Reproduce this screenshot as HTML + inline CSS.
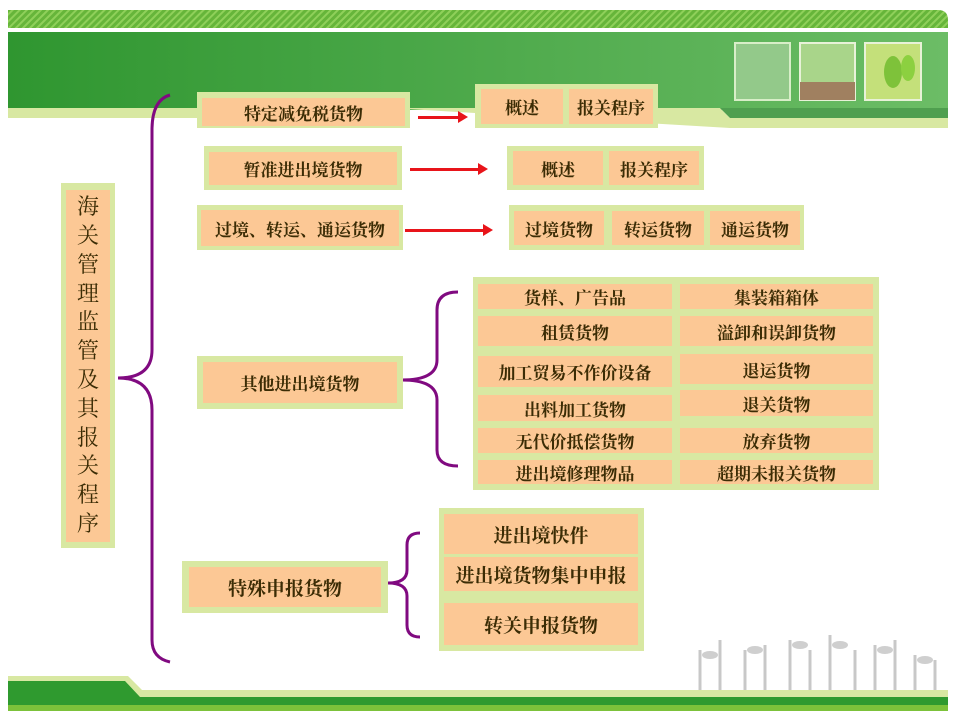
<!DOCTYPE html>
<html><head><meta charset="utf-8"><style>
body{margin:0;width:960px;height:720px;background:#fff;position:relative;overflow:hidden;font-family:"Liberation Serif","Noto Serif CJK SC",serif;}
.o{position:absolute;background:#d8e8a2;}
.i{position:absolute;background:#fcc895;color:#3b2c05;font-weight:bold;font-size:17px;display:flex;align-items:center;justify-content:center;white-space:nowrap;}
.a{position:absolute;height:3px;background:#e8141a;}
.a:after{content:"";position:absolute;right:-8px;top:-5px;border-left:10px solid #e8141a;border-top:6px solid transparent;border-bottom:6px solid transparent;}
</style></head><body>
<svg width="960" height="720" style="position:absolute;left:0;top:0">
<defs>
<pattern id="h" width="5" height="5" patternUnits="userSpaceOnUse" patternTransform="rotate(45)"><rect width="5" height="5" fill="#66b53a"/><rect width="2" height="5" fill="#8fd05a"/></pattern>
<linearGradient id="g" x1="0" x2="1"><stop offset="0" stop-color="#2f9630"/><stop offset="1" stop-color="#6cbd66"/></linearGradient>
</defs>
<path d="M8 10 H938 Q948 10 948 20 V28 H8Z" fill="url(#h)"/>
<rect x="8" y="32" width="940" height="78" fill="url(#g)"/>
<rect x="8" y="108" width="400" height="10" fill="#d8e8a2"/>
<path d="M390 108 H720 L730 118 H948 V128 H730Z" fill="#d8e8a2"/>
<path d="M720 108 H948 V118 H730Z" fill="#4f9f4f"/>
<rect x="735" y="43" width="55" height="57" fill="#93c98a" stroke="#d8eec8" stroke-width="2"/>
<rect x="800" y="43" width="55" height="57" fill="#a9d58a" stroke="#e8f2d8" stroke-width="2"/>
<rect x="800" y="82" width="55" height="18" fill="#a08060"/>
<rect x="865" y="43" width="56" height="57" fill="#c4e07a" stroke="#e8f2d8" stroke-width="2"/>
<ellipse cx="893" cy="72" rx="9" ry="16" fill="#7ec23a"/><ellipse cx="908" cy="68" rx="7" ry="13" fill="#8cd040"/>
<!-- footer -->
<path d="M8 676 H128 L142 690 H948 V698 H8Z" fill="#d8e8a2"/>
<path d="M8 681 H125 L140 697 H948 V706 H8Z" fill="#2f9a2f"/>
<rect x="8" y="705" width="940" height="6" fill="#7cc23a"/>
<g stroke="#c8c8c8" stroke-width="3" fill="none">
<path d="M700 690 V650 M720 690 V640 M745 690 V650 M765 690 V645 M790 690 V640 M810 690 V650 M830 690 V635 M855 690 V650 M875 690 V645 M895 690 V640 M915 690 V655 M935 690 V660"/>
</g>
<g fill="#cfcfcf"><ellipse cx="710" cy="655" rx="8" ry="4"/><ellipse cx="755" cy="650" rx="8" ry="4"/><ellipse cx="800" cy="645" rx="8" ry="4"/><ellipse cx="840" cy="645" rx="8" ry="4"/><ellipse cx="885" cy="650" rx="8" ry="4"/><ellipse cx="925" cy="660" rx="8" ry="4"/></g>
<!-- braces -->
<g stroke="#800a80" stroke-width="3" fill="none">
<path d="M170 95 Q152 100 152 130 V350 Q152 378 118 378 Q152 378 152 410 V640 Q152 658 170 662"/>
<path d="M458 292 Q437 292 437 310 V360 Q437 380 402 380 Q437 380 437 400 V450 Q437 466 458 466"/>
<path d="M420 533 Q407 533 407 545 V570 Q407 583 388 583 Q407 583 407 596 V625 Q407 637 420 637"/>
</g>
</svg>
<div class="o" style="left:61px;top:183px;width:54px;height:365px"></div>
<div class="i" style="left:66px;top:190px;width:44px;height:352px;font-size:22px;line-height:28.8px;white-space:normal;text-align:center;font-weight:normal">海<br>关<br>管<br>理<br>监<br>管<br>及<br>其<br>报<br>关<br>程<br>序</div>

<div class="o" style="left:197px;top:92px;width:213px;height:36px"></div>
<div class="i" style="left:202px;top:98px;width:203px;height:28px">特定减免税货物</div>
<div class="a" style="left:418px;top:116px;width:42px"></div>
<div class="o" style="left:475px;top:84px;width:183px;height:44px"></div>
<div class="i" style="left:481px;top:89px;width:82px;height:35px">概述</div>
<div class="i" style="left:569px;top:89px;width:84px;height:35px">报关程序</div>

<div class="o" style="left:204px;top:146px;width:198px;height:44px"></div>
<div class="i" style="left:209px;top:152px;width:188px;height:33px">暂准进出境货物</div>
<div class="a" style="left:410px;top:168px;width:70px"></div>
<div class="o" style="left:507px;top:146px;width:197px;height:44px"></div>
<div class="i" style="left:513px;top:151px;width:90px;height:34px">概述</div>
<div class="i" style="left:609px;top:151px;width:90px;height:34px">报关程序</div>

<div class="o" style="left:197px;top:205px;width:206px;height:45px"></div>
<div class="i" style="left:201px;top:210px;width:198px;height:36px">过境、转运、通运货物</div>
<div class="a" style="left:405px;top:229px;width:80px"></div>
<div class="o" style="left:509px;top:205px;width:295px;height:45px"></div>
<div class="i" style="left:514px;top:211px;width:90px;height:34px">过境货物</div>
<div class="i" style="left:612px;top:211px;width:92px;height:34px">转运货物</div>
<div class="i" style="left:710px;top:211px;width:90px;height:34px">通运货物</div>

<div class="o" style="left:197px;top:356px;width:206px;height:53px"></div>
<div class="i" style="left:203px;top:362px;width:194px;height:41px">其他进出境货物</div>

<div class="o" style="left:473px;top:277px;width:406px;height:213px"></div>
<div class="i" style="left:478px;top:284px;width:194px;height:25px">货样、广告品</div>
<div class="i" style="left:680px;top:284px;width:193px;height:25px">集装箱箱体</div>
<div class="i" style="left:478px;top:316px;width:194px;height:30px">租赁货物</div>
<div class="i" style="left:680px;top:316px;width:193px;height:30px">溢卸和误卸货物</div>
<div class="i" style="left:478px;top:356px;width:194px;height:31px">加工贸易不作价设备</div>
<div class="i" style="left:680px;top:354px;width:193px;height:30px">退运货物</div>
<div class="i" style="left:478px;top:395px;width:194px;height:26px">出料加工货物</div>
<div class="i" style="left:680px;top:390px;width:193px;height:26px">退关货物</div>
<div class="i" style="left:478px;top:428px;width:194px;height:25px">无代价抵偿货物</div>
<div class="i" style="left:680px;top:428px;width:193px;height:25px">放弃货物</div>
<div class="i" style="left:478px;top:460px;width:194px;height:24px">进出境修理物品</div>
<div class="i" style="left:680px;top:460px;width:193px;height:24px">超期未报关货物</div>

<div class="o" style="left:182px;top:561px;width:206px;height:52px"></div>
<div class="i" style="left:189px;top:567px;width:192px;height:40px;font-size:19px">特殊申报货物</div>

<div class="o" style="left:439px;top:508px;width:205px;height:143px"></div>
<div class="i" style="left:444px;top:514px;width:194px;height:40px;font-size:19px">进出境快件</div>
<div class="i" style="left:444px;top:557px;width:194px;height:34px;font-size:19px">进出境货物集中申报</div>
<div class="i" style="left:444px;top:603px;width:194px;height:42px;font-size:19px">转关申报货物</div>
</body></html>
